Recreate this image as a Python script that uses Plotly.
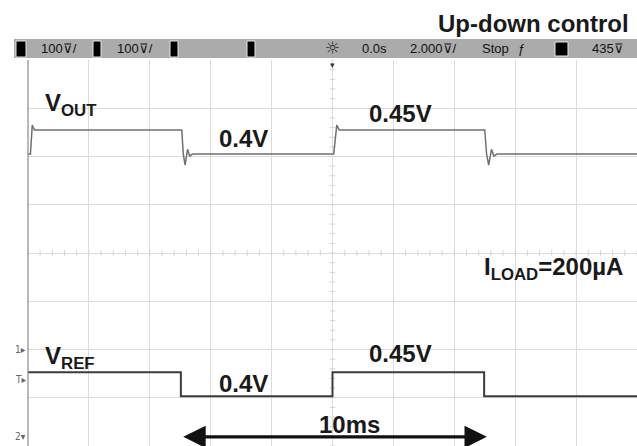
import plotly.graph_objects as go

# ---------------- data (time in ms, voltage in V) ----------------
t_vout = [-10.0, -9.92, -9.86, -9.79, -4.95, -4.90, -4.84, -4.76, -4.69, -4.60,
          0.04, 0.10, 0.14, 0.22, 5.00, 5.06, 5.13, 5.22, 5.30, 5.40, 10.0]
v_vout = [0.400, 0.400, 0.460, 0.450, 0.450, 0.400, 0.377, 0.410, 0.396, 0.400,
          0.400, 0.440, 0.460, 0.450, 0.450, 0.400, 0.377, 0.410, 0.396, 0.400, 0.400]

t_vref = [-10.0, -4.98, -4.98, 0.0, 0.0, 4.98, 4.98, 10.0]
v_vref = [0.45, 0.45, 0.40, 0.40, 0.45, 0.45, 0.40, 0.40]

status_labels = ["100⊽/", "100⊽/", "0.0s", "2.000⊽/", "Stop", "ƒ", "435⊽"]
title_text = "Up-down control"

# scope settings
VOLTS_PER_DIV = 0.1
VOUT_BASE = 6.05   # screen division where 0.40 V of VOUT sits
VREF_BASE = 1.03   # screen division where 0.40 V of VREF sits

W, H = 637, 446
L, T = 28, 60
PW, PH = W - L, H - T


def P(px, py):
    """pixel -> paper coords"""
    return (px - L) / PW, (H - py) / PH


vout_div = [(v - 0.40) / VOLTS_PER_DIV + VOUT_BASE for v in v_vout]
vref_div = [(v - 0.40) / VOLTS_PER_DIV + VREF_BASE for v in v_vref]

fig = go.Figure()

# minor ticks on centre lines
mx = [-10 + i * 0.4 for i in range(51)]
fig.add_trace(go.Scatter(x=mx, y=[4] * len(mx), mode="markers",
                         marker=dict(symbol="line-ns", size=4, line=dict(width=1, color="#d4d4d4")),
                         hoverinfo="skip", showlegend=False))
my = [i * 0.2 for i in range(41)]
fig.add_trace(go.Scatter(x=[0] * len(my), y=my, mode="markers",
                         marker=dict(symbol="line-ew", size=4, line=dict(width=1, color="#d4d4d4")),
                         hoverinfo="skip", showlegend=False))

fig.add_trace(go.Scatter(x=t_vout, y=vout_div, mode="lines",
                         line=dict(color="#707070", width=1.5), showlegend=False))
fig.add_trace(go.Scatter(x=t_vref, y=vref_div, mode="lines",
                         line=dict(color="#3c3c3c", width=2), showlegend=False))

shapes = []
# status bar
shapes.append(dict(type="rect", xref="paper", yref="paper",
                   x0=P(14, 0)[0], x1=P(640, 0)[0], y0=P(0, 58)[1], y1=P(0, 39)[1],
                   fillcolor="#ababab", line=dict(width=0), layer="above"))
for x0, x1, y0, y1 in [(16, 26, 41, 57), (93, 101, 41, 57), (170, 178, 41, 57),
                       (247, 255, 41, 57), (555, 568, 42, 56)]:
    a0, b0 = P(x0, y1)
    a1, b1 = P(x1, y0)
    shapes.append(dict(type="rect", xref="paper", yref="paper", x0=a0, x1=a1, y0=b0, y1=b1,
                       fillcolor="#000000", line=dict(width=1, color="#e8e8e8"), layer="above"))
# left frame line
shapes.append(dict(type="line", xref="paper", yref="paper", x0=0, x1=0, y0=0, y1=1,
                   line=dict(color="#8a8a8a", width=1.2)))

ann = []
font_b = dict(family="Liberation Sans, Arial, sans-serif", size=24, color="#1a1a1a")


def lab(text, px, py, xanchor="center", size=24):
    x, y = P(px, py)
    f = dict(font_b)
    f["size"] = size
    ann.append(dict(text=text, x=x, y=y, xref="paper", yref="paper", xanchor=xanchor,
                    yanchor="middle", showarrow=False, font=f))


lab("<b>" + title_text + "</b>", 631, 24, xanchor="right")
lab("<b>V<sub>OUT</sub></b>", 43, 105, xanchor="left")
lab("<b>0.4V</b>", 243, 138)
lab("<b>0.45V</b>", 400, 113)
lab("<b>I<sub>LOAD</sub>=200µA</b>", 482, 268, xanchor="left")
lab("<b>V<sub>REF</sub></b>", 43, 357, xanchor="left")
lab("<b>0.4V</b>", 243, 383)
lab("<b>0.45V</b>", 400, 353)
lab("<b>10ms</b>", 349, 424)

# status bar text
small = dict(family="Liberation Sans Narrow, Liberation Sans, Arial, sans-serif", size=13, color="#111111")
for text, px in zip(status_labels, [59, 135, 374, 433, 496, 521, 608]):
    x, y = P(px, 49)
    ann.append(dict(text=text, x=x, y=y, xref="paper", yref="paper", showarrow=False,
                    xanchor="center", yanchor="middle", font=small))
x, y = P(332, 48)
ann.append(dict(text="☼", x=x, y=y, xref="paper", yref="paper", showarrow=False,
                xanchor="center", yanchor="middle",
                font=dict(family="DejaVu Sans", size=17, color="#222")))
x, y = P(332, 58)
ann.append(dict(text="▾", x=x, y=y, xref="paper", yref="paper", showarrow=False,
                xanchor="center", yanchor="top",
                font=dict(family="DejaVu Sans", size=9, color="#333")))

# channel markers on the left
for text, py in [("1▸", 349), ("T▸", 379), ("2▾", 436)]:
    x, y = P(20, py)
    ann.append(dict(text=text, x=x, y=y, xref="paper", yref="paper", showarrow=False,
                    xanchor="center", yanchor="middle",
                    font=dict(family="DejaVu Sans Condensed, DejaVu Sans", size=10, color="#666")))

# 10 ms double-headed arrow
ann.append(dict(x=5.07, y=0.19, ax=-4.95, ay=0.19, xref="x", yref="y", axref="x", ayref="y",
                text="", showarrow=True, arrowhead=2, startarrowhead=2, arrowside="end+start",
                arrowwidth=3.2, arrowsize=1.4, startarrowsize=1.4, arrowcolor="#111"))

fig.update_layout(
    width=W, height=H,
    margin=dict(l=L, r=0, t=T, b=0),
    paper_bgcolor="white", plot_bgcolor="white",
    xaxis=dict(range=[-10, 10], dtick=2, tick0=-10, showgrid=True, gridcolor="#dcdcdc", gridwidth=1,
               zeroline=False, showticklabels=False, ticks="", showline=False, fixedrange=True),
    yaxis=dict(range=[0, 8], dtick=1, tick0=0, showgrid=True, gridcolor="#dcdcdc", gridwidth=1,
               zeroline=False, showticklabels=False, ticks="", showline=False, fixedrange=True),
    shapes=shapes, annotations=ann, showlegend=False,
)

fig.write_html("out.html", config={"staticPlot": True},
               post_script="document.body.style.margin='0';document.body.style.overflow='hidden';")
